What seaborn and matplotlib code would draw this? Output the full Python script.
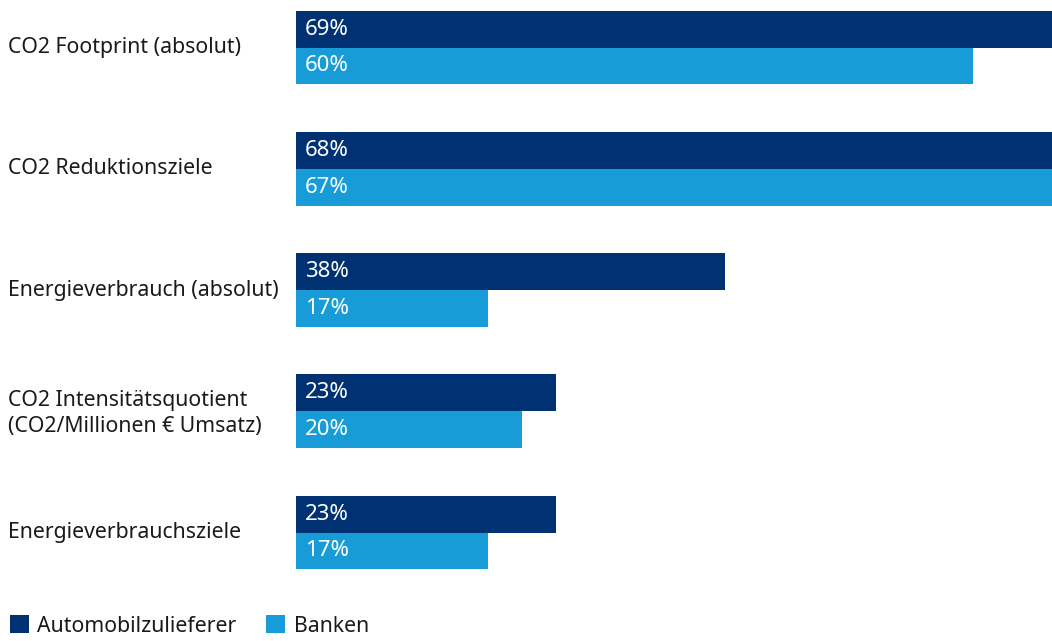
import matplotlib
matplotlib.use("Agg")
import matplotlib.pyplot as plt
import matplotlib.transforms as mtransforms
import seaborn as sns
import pandas as pd
from matplotlib.patches import Patch

categories = [
    "CO2 Footprint (absolut)",
    "CO2 Reduktionsziele",
    "Energieverbrauch (absolut)",
    "CO2 Intensitätsquotient\n(CO2/Millionen € Umsatz)",
    "Energieverbrauchsziele",
]
series_names = ["Automobilzulieferer", "Banken"]
auto_values = [69, 68, 38, 23, 23]
bank_values = [60, 67, 17, 20, 17]
colors = ["#003273", "#189cd8"]

sns.set_theme(style="white")
plt.rcParams["font.family"] = ["Noto Sans", "DejaVu Sans"]

df = pd.DataFrame({
    "Kategorie": categories * 2,
    "Gruppe": [series_names[0]] * len(categories) + [series_names[1]] * len(categories),
    "Wert": auto_values + bank_values,
})

W, H = 1052, 641
fig = plt.figure(figsize=(W / 100, H / 100), dpi=100)
ax_left = 296 / W
ax_top_px, ax_bot_px = 0, 590
ax = fig.add_axes([ax_left, 1 - ax_bot_px / H, 1 - ax_left, (ax_bot_px - ax_top_px) / H])

sns.barplot(data=df, y="Kategorie", x="Wert", hue="Gruppe", order=categories,
            hue_order=series_names, palette=colors, orient="h", width=0.61,
            saturation=1, ax=ax, legend=False, errorbar=None, linewidth=0)

ax.set_xlim(0, 67.0)
spacing = 121.25
ax.set_ylim((ax_bot_px - 47.5) / spacing, -(47.5 - ax_top_px) / spacing)

for cont in ax.containers:
    for patch, v in zip(cont, cont.datavalues):
        ax.annotate(f"{v:.0f}%", (0, patch.get_y() + patch.get_height() / 2),
                    xytext=(6.6, 0), textcoords="offset points",
                    ha="left", va="center", color="white", fontsize=16)

ax.set_xlabel("")
ax.set_ylabel("")
ax.set_xticks([])
for s in ax.spines.values():
    s.set_visible(False)
ax.tick_params(axis="y", length=0, pad=(296 - 8) * 0.72, labelsize=15.3, labelcolor="#1a1a1a")
shift = mtransforms.ScaledTranslation(0, 2.5 / 100, fig.dpi_scale_trans)
for lab in ax.get_yticklabels():
    lab.set_horizontalalignment("left")
    lab.set_multialignment("left")
    lab.set_linespacing(1.3)
    lab.set_transform(lab.get_transform() + shift)

handles = [Patch(facecolor=c, edgecolor="none", label=n) for c, n in zip(colors, series_names)]
fig.legend(handles=handles, loc="lower left", bbox_to_anchor=(1 / W, -4 / H), ncol=2,
           frameon=False, fontsize=15.3, handlelength=0.9, handleheight=0.9,
           handletextpad=0.4, columnspacing=1.4, borderaxespad=0, labelcolor="#1a1a1a")

fig.savefig("out.png", dpi=100)
